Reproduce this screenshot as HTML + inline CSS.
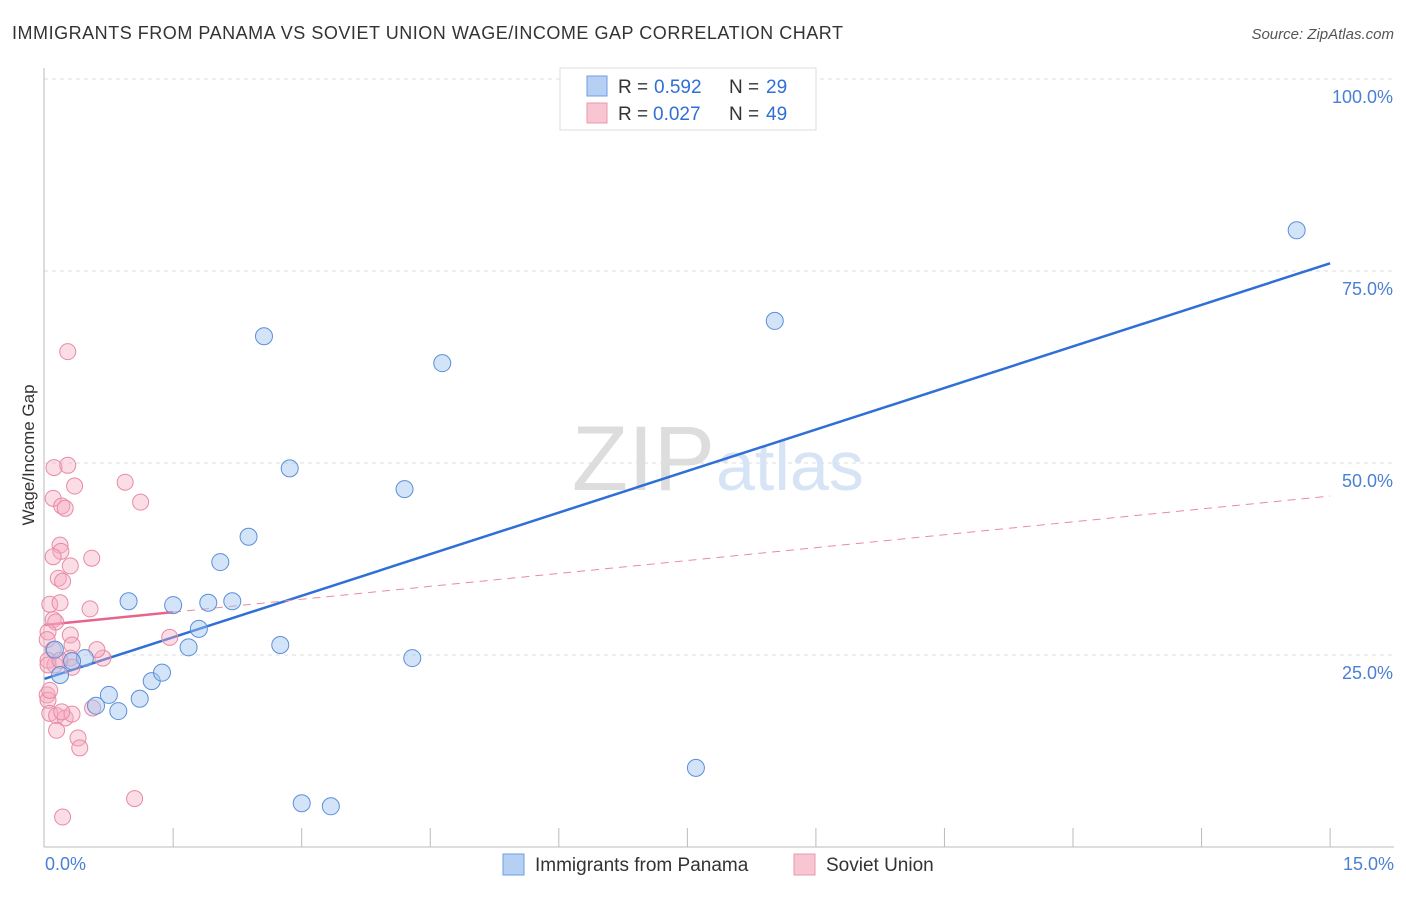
<!DOCTYPE html>
<html><head><meta charset="utf-8"><style>
body{margin:0;background:#fff;font-family:"Liberation Sans",sans-serif}
svg text{font-family:"Liberation Sans",sans-serif}
</style></head><body>
<svg width="1406" height="892" viewBox="0 0 1406 892">
<text x="12" y="39" font-size="18" fill="#333" textLength="831">IMMIGRANTS FROM PANAMA VS SOVIET UNION WAGE/INCOME GAP CORRELATION CHART</text>
<text x="1394" y="39" font-size="15" fill="#555" font-style="italic" text-anchor="end">Source: ZipAtlas.com</text>
<g id="grid"></g>
<g id="axes"></g>
<text x="715" y="490" font-size="92" fill="#ddd" text-anchor="end" font-family="Liberation Serif">ZIP</text>
<text x="716" y="490" font-size="70" fill="#d6e4f5">atlas</text>
<g id="lines"></g>
<g id="pts"></g>
<text transform="translate(34,455) rotate(-90)" font-size="17" fill="#333" text-anchor="middle">Wage/Income Gap</text>
<text x="45" y="870" font-size="18" fill="#4a7fd4">0.0%</text>
<text x="1394" y="870" font-size="18" fill="#4a7fd4" text-anchor="end">15.0%</text>
<g>
<rect x="560" y="68" width="256" height="62" fill="#fff" stroke="#ddd"/>
<rect x="587" y="76" width="20" height="20" fill="#b5d0f3" stroke="#6f9ee0"/>
<rect x="587" y="103" width="20" height="20" fill="#f8c5d3" stroke="#ea97ae"/>
<text x="618" y="93" font-size="19" fill="#333">R =</text>
<text x="654" y="93" font-size="19" fill="#2f6fd6">0.592</text>
<text x="729" y="93" font-size="19" fill="#333">N =</text>
<text x="766" y="93" font-size="19" fill="#2f6fd6">29</text>
<text x="618" y="120" font-size="19" fill="#333">R =</text>
<text x="653" y="120" font-size="19" fill="#2f6fd6">0.027</text>
<text x="729" y="120" font-size="19" fill="#333">N =</text>
<text x="766" y="120" font-size="19" fill="#2f6fd6">49</text>
</g>
<g>
<rect x="503" y="854" width="21" height="21" fill="#b5d0f3" stroke="#6f9ee0"/>
<text x="535" y="871" font-size="19" fill="#333">Immigrants from Panama</text>
<rect x="794" y="854" width="21" height="21" fill="#f8c5d3" stroke="#ea97ae"/>
<text x="826" y="871" font-size="19" fill="#333">Soviet Union</text>
</g>
</svg>
<script>
const blueX=[14.61,8.52,2.56,4.64,2.86,4.20,2.38,2.05,0.98,1.50,1.91,2.19,1.80,1.68,2.75,4.29,0.47,0.32,0.18,0.75,0.60,0.86,1.11,1.25,1.37,7.60,3.00,3.34,0.12];
const blueY=[80.3,68.5,66.5,63.0,49.3,46.6,40.4,37.1,32.0,31.5,31.8,32.0,28.4,26.0,26.3,24.6,24.6,24.2,22.4,19.8,18.4,17.7,19.3,21.6,22.7,10.3,5.7,5.3,25.7];
const pinkX=[0.27,0.11,0.27,0.10,0.35,0.94,1.12,0.20,0.24,0.18,0.19,0.10,0.30,0.16,0.21,0.55,0.06,0.18,0.53,0.10,0.13,0.04,0.30,0.03,0.10,0.32,0.04,0.30,0.68,0.61,1.46,0.12,0.32,0.03,0.04,0.06,0.14,0.24,0.32,0.20,0.56,0.14,0.39,0.41,1.05,0.21,0.04,0.18,0.06];
const pinkY=[64.5,49.4,49.7,45.4,47.0,47.5,44.9,44.4,44.1,39.3,38.5,37.8,36.6,35.0,34.6,37.6,31.6,31.8,31.0,29.6,29.3,28.0,27.6,27.0,25.7,26.3,24.3,24.6,24.6,25.7,27.3,23.7,23.4,19.8,19.1,17.4,17.1,16.8,17.3,17.6,18.1,15.2,14.2,12.9,6.3,3.9,23.7,24.3,20.4];
const yTicks=[25,50,75,100];
const xTicks=[1.5,3,4.5,6,7.5,9,10.5,12,13.5,15];
const blueFit=[21.9,76.0];
const pinkFit=[28.9,45.7];
const pinkSolidEnd=1.5;
const NS="http://www.w3.org/2000/svg";
const sx=v=>44.6+v*85.7, sy=v=>847-v*7.68;
function mk(t,a,p){const e=document.createElementNS(NS,t);for(const k in a)e.setAttribute(k,a[k]);p.appendChild(e);return e;}
const g=document.getElementById('grid'),ax=document.getElementById('axes'),ln=document.getElementById('lines'),pts=document.getElementById('pts');
yTicks.forEach(t=>{const l=mk('line',{x1:44,x2:1394,y1:sy(t),y2:sy(t),stroke:'#ddd','stroke-dasharray':'4,4'},g);


const tx=mk('text',{x:1393,y:sy(t)+24,'font-size':18,fill:'#4a7fd4','text-anchor':'end'},g);tx.textContent=t.toFixed(1)+'%';

});
mk('line',{x1:44,x2:44,y1:68,y2:847,stroke:'#bbb'},ax);
mk('line',{x1:44,x2:1394,y1:847,y2:847,stroke:'#bbb'},ax);
xTicks.forEach(t=>{const l=mk('line',{x1:sx(t),x2:sx(t),y1:828,y2:847,stroke:'#bbb'},ax);

});
const pf=x=>pinkFit[0]+(pinkFit[1]-pinkFit[0])*x/15;
const bl=mk('line',{x1:sx(0),y1:sy(blueFit[0]),x2:sx(15),y2:sy(blueFit[1]),stroke:'#2f6fd6','stroke-width':2.5},ln);


const pd=mk('line',{x1:sx(pinkSolidEnd),y1:sy(pf(pinkSolidEnd)),x2:sx(15),y2:sy(pf(15)),stroke:'#e88aa5','stroke-width':1,'stroke-dasharray':'8,6'},ln);


const ps=mk('line',{x1:sx(0),y1:sy(pf(0)),x2:sx(pinkSolidEnd),y2:sy(pf(pinkSolidEnd)),stroke:'#e8648c','stroke-width':2.5},ln);


pinkX.forEach((x,i)=>{const c=mk('circle',{cx:sx(x),cy:sy(pinkY[i]),r:8,fill:'rgba(245,170,192,0.4)',stroke:'#e88aa5','stroke-width':1},pts);

});
blueX.forEach((x,i)=>{const c=mk('circle',{cx:sx(x),cy:sy(blueY[i]),r:8.5,fill:'rgba(160,195,240,0.45)',stroke:'#5b8fd8','stroke-width':1},pts);

});
</script>
</body></html>
